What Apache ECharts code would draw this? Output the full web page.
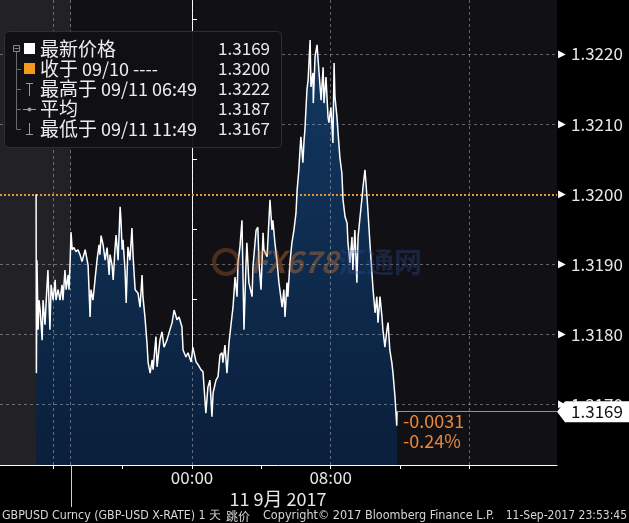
<!DOCTYPE html>
<html><head><meta charset="utf-8">
<script src="https://cdn.jsdelivr.net/npm/echarts@6/dist/echarts.min.js"></script>
<style>html,body{margin:0;padding:0;background:#000}#c{width:629px;height:523px}</style>
</head><body><div id="c"></div><script>
// ---- data (minutes relative to 09/11 00:00) ----
const minutes = [
-540,-539,-537,-533,-530,-526,-519,-516,-509,-505,
-499,-495,-492,-488,-481,-474,-471,-464,-457,-450,
-447,-440,-436,-429,-426,-422,-419,-415,-409,-402,
-395,-388,-381,-370,-360,-353,-350,-343,-336,-329,
-322,-319,-315,-308,-301,-294,-287,-284,-277,-273,
-267,-263,-256,-249,-246,-242,-239,-232,-228,-222,
-215,-208,-204,-197,-187,-180,-173,-170,-163,-156,
-152,-145,-138,-135,-125,-121,-111,-104,-97,-87,
-80,-69,-62,-52,-45,-35,-31,-21,-14,-3,
3,14,21,31,38,48,55,62,69,73,
83,90,97,104,107,114,121,128,138,142,
149,156,159,166,173,177,180,187,190,197,
208,211,222,228,232,239,246,249,260,267,
270,277,280,287,294,301,312,318,322,329,
332,339,346,353,360,364,370,374,377,384,
388,391,398,402,409,
412,419,420,426,
433,440,447,454,457,464,471,474,481,488,
492,495,502,505,512,519,523,530,537,540,
547,554,557,564,571,575,582,589,592,599,
606,609,616,623,627,634,640,644,651,658,
661,668,675,679,685,692,696,703,709,710];
const prices = [
1.32000,1.31745,1.31906,1.31807,1.31849,1.31835,1.31792,1.31849,1.31814,1.31849,
1.31892,1.31842,1.31807,1.31871,1.31849,1.31878,1.31849,1.31864,1.31849,1.31871,
1.31849,1.31892,1.31864,1.31885,1.31864,1.31906,1.31946,1.31921,1.31924,1.31918,
1.31921,1.31914,1.31904,1.31921,1.31899,1.31825,1.31864,1.31849,1.31878,1.31906,
1.31928,1.31914,1.31941,1.31928,1.31906,1.31924,1.31885,1.31914,1.31899,1.31878,
1.31921,1.31942,1.31906,1.31982,1.31963,1.31921,1.31935,1.31892,1.31845,1.31925,
1.31906,1.31952,1.31911,1.31864,1.31859,1.31839,1.31885,1.31854,1.31825,1.31788,
1.31760,1.31745,1.31764,1.31750,1.31797,1.31754,1.31792,1.31804,1.31782,1.31792,
1.31802,1.31817,1.31835,1.31821,1.31825,1.31811,1.31778,1.31768,1.31774,1.31761,
1.31782,1.31761,1.31757,1.31750,1.31747,1.31688,1.31725,1.31735,1.31683,1.31717,
1.31735,1.31740,1.31771,1.31774,1.31760,1.31785,1.31745,1.31788,1.31825,1.31839,
1.31882,1.31854,1.31902,1.31925,1.31963,1.31874,1.31807,1.31902,1.31931,1.31874,
1.31854,1.31896,1.31949,1.31953,1.31902,1.31864,1.31945,1.31921,1.31911,1.31968,
1.31992,1.31949,1.31963,1.31931,1.31906,1.31874,1.31839,1.31864,1.31825,1.31874,
1.31854,1.31902,1.31931,1.31949,1.31973,1.32006,1.32035,1.32063,1.32082,1.32045,
1.32077,1.32092,1.32149,1.32163,1.32220,
1.32153,1.32173,1.32130,1.32196,
1.32213,1.32173,1.32134,1.32181,1.32130,1.32167,1.32110,1.32102,1.32124,1.32073,
1.32187,1.32139,1.32110,1.32092,1.32053,1.32030,1.31992,1.31968,1.31959,1.31931,
1.31902,1.31939,1.31892,1.31949,1.31874,1.31939,1.31968,1.31996,1.32010,1.32035,
1.31996,1.31978,1.31931,1.31888,1.31864,1.31831,1.31854,1.31817,1.31854,1.31825,
1.31807,1.31782,1.31807,1.31817,1.31778,1.31760,1.31745,1.31711,1.31670,1.31690];

const yGridValues = [1.3170, 1.3180, 1.3190, 1.3210, 1.3220];
const yLabelValues = [1.3170, 1.3180, 1.3190, 1.3200, 1.3210, 1.3220];
const yMinorTicks = [1.3165, 1.3175, 1.3185, 1.3195, 1.3205, 1.3215, 1.3225];
const xTickValues = [-480, -240, 0, 240, 480, 720, 960];
const xGridValues = [-480, -420, 0, 480, 960];
const xLabelValues = [0, 480];
const sessionStart = -420;
const prevClose = 1.3200, lastPrice = 1.3169;
const changeText = '-0.0031', changePctText = '-0.24%';
const legendLabels = ['最新价格', '收于 09/10 ----', '最高于 09/11 06:49', '平均', '最低于 09/11 11:49'];
const legendValues = ['1.3169', '1.3200', '1.3222', '1.3187', '1.3167'];
const dateLabel = '11 9月 2017';
const footerParts = ['GBPUSD Curncy (GBP-USD X-RATE) 1 天', '跳价', 'Copyright© 2017 Bloomberg Finance L.P.', '11-Sep-2017 23:53:45'];

// ---- chart ----
const FONT = "'Noto Sans CJK SC','Noto Sans',sans-serif";
const NARROW = "'Liberation Sans Narrow','DejaVu Sans Condensed',sans-serif";
const xMin = -665, xMax = 1264, yMin = 1.31614, yMax = 1.32277;
const lastIdx = minutes.length - 1;
const lineData = minutes.map((m, i) => [m, prices[i]]);
const fmtTime = m => { const h = ((Math.floor(m / 60) % 24) + 24) % 24; const mm = ((m % 60) + 60) % 60; return String(h).padStart(2, '0') + ':' + String(mm).padStart(2, '0'); };
const GRIDC = 'rgba(220,225,235,0.40)';

// split text into CJK / latin runs for rich text
const toRich = s => s.replace(/([\u3400-\u9fff]+)|([^\u3400-\u9fff]+)/g, (m, c, l) => c ? '{c|' + c + '}' : '{l|' + l + '}');
const legendRich = { c: { fontSize: 19, fontFamily: FONT, fill: '#ececec' }, l: { fontSize: 18, fontFamily: FONT, fill: '#ececec' } };

const chart = echarts.init(document.getElementById('c'));
const rowY = [49, 69, 89, 109, 129];
const L2 = { zlevel: 2 };
const legendGraphics = [
  { type: 'rect', shape: { x: 4.5, y: 31.5, width: 277, height: 116, r: 4 }, style: { fill: 'rgba(16,16,20,0.95)', stroke: '#2e2e33', lineWidth: 1 }, z: 100 },
  { type: 'rect', shape: { x: 13.5, y: 45.5, width: 6, height: 6 }, style: { fill: 'none', stroke: '#8a8a8a', lineWidth: 1 }, z: 101 },
  { type: 'line', shape: { x1: 14.5, y1: 48.5, x2: 18.5, y2: 48.5 }, style: { stroke: '#8a8a8a', lineWidth: 1 }, z: 101 },
  { type: 'line', shape: { x1: 16.5, y1: 52, x2: 16.5, y2: 129.5 }, style: { stroke: '#6a6a6a', lineWidth: 1 }, z: 101 },
  { type: 'rect', shape: { x: 24, y: 43, width: 11, height: 11 }, style: { fill: '#ffffff' }, z: 101 },
  { type: 'rect', shape: { x: 24, y: 63, width: 11, height: 11 }, style: { fill: '#f39a1e' }, z: 101 },
  { type: 'line', shape: { x1: 29.5, y1: 83, x2: 29.5, y2: 96 }, style: { stroke: '#9a9a9a', lineWidth: 1 }, z: 101 },
  { type: 'line', shape: { x1: 26, y1: 83.5, x2: 33, y2: 83.5 }, style: { stroke: '#9a9a9a', lineWidth: 1 }, z: 101 },
  { type: 'line', shape: { x1: 23, y1: 109.5, x2: 36, y2: 109.5 }, style: { stroke: '#9a9a9a', lineWidth: 1 }, z: 101 },
  { type: 'circle', shape: { cx: 29.5, cy: 109.5, r: 2 }, style: { fill: '#9a9a9a' }, z: 101 },
  { type: 'line', shape: { x1: 29.5, y1: 123, x2: 29.5, y2: 135 }, style: { stroke: '#9a9a9a', lineWidth: 1 }, z: 101 },
  { type: 'line', shape: { x1: 26, y1: 134.5, x2: 33, y2: 134.5 }, style: { stroke: '#9a9a9a', lineWidth: 1 }, z: 101 }
];
[69, 89, 109, 129].forEach(y => legendGraphics.push({ type: 'line', shape: { x1: 16.5, y1: y + 0.5, x2: 21, y2: y + 0.5 }, style: { stroke: '#6a6a6a', lineWidth: 1 }, z: 101 }));
legendLabels.forEach((t, i) => {
  legendGraphics.push({ type: 'text', x: 40, y: rowY[i], style: { text: toRich(t), rich: legendRich, fill: '#ececec', font: '17px ' + FONT, textVerticalAlign: 'middle' }, z: 102 });
  legendGraphics.push({ type: 'text', x: 270, y: rowY[i], style: { text: legendValues[i], fill: '#ececec', font: '17px ' + FONT, textAlign: 'right', textVerticalAlign: 'middle' }, z: 102 });
});
legendGraphics.forEach(g => Object.assign(g, L2));

const otherGraphics = [
  { type: 'text', x: 278, y: 499, style: { text: toRich(dateLabel), rich: { c: { fontSize: 19, fontFamily: FONT, fill: '#e6e6e6' }, l: { fontSize: 18, fontFamily: FONT, fill: '#e6e6e6' } }, fill: '#e6e6e6', font: '18px ' + FONT, textAlign: 'center', textVerticalAlign: 'middle' }, z: 50 },
  { type: 'text', x: 2, y: 516, style: { text: footerParts[0], fill: '#d6d6d6', font: '12.3px ' + NARROW, textVerticalAlign: 'middle' }, z: 50 },
  { type: 'text', x: 226, y: 516, style: { text: footerParts[1], fill: '#d6d6d6', font: '12px ' + FONT, textVerticalAlign: 'middle' }, z: 50 },
  { type: 'text', x: 263, y: 516, style: { text: footerParts[2], fill: '#d6d6d6', font: '12.5px ' + NARROW, textVerticalAlign: 'middle' }, z: 50 },
  { type: 'text', x: 627, y: 516, style: { text: footerParts[3], fill: '#d6d6d6', font: '12px ' + NARROW, textAlign: 'right', textVerticalAlign: 'middle' }, z: 50 },
  // watermark
  { type: 'circle', shape: { cx: 226, cy: 262, r: 12 }, style: { fill: 'none', stroke: 'rgba(190,100,45,0.35)', lineWidth: 4 }, z: 20, zlevel: 1 },
  { type: 'text', x: 250, y: 262, style: { text: 'FX678', fill: 'rgba(210,120,50,0.40)', font: 'bold italic 30px ' + FONT, textVerticalAlign: 'middle' }, z: 20, zlevel: 1 },
  { type: 'text', x: 338, y: 262, style: { text: '汇通网', fill: 'rgba(45,80,150,0.33)', font: 'bold 28px ' + FONT, textVerticalAlign: 'middle' }, z: 20, zlevel: 1 }
];

const gridLines = [
  ...yGridValues.map(v => [{ coord: [xMin, v] }, { coord: [xMax, v] }]),
  ...xGridValues.map(m => [{ coord: [m, yMin] }, { coord: [m, yMax] }])
];

chart.setOption({
  animation: false,
  backgroundColor: '#000',
  grid: { left: 0, right: 72, top: 0, bottom: 58, show: true, backgroundColor: '#111115', borderWidth: 0 },
  xAxis: {
    type: 'value', min: xMin, max: xMax,
    splitLine: { show: false },
    axisLine: { show: true, onZero: false, lineStyle: { color: '#ffffff', width: 1 } },
    axisTick: { show: true, customValues: xTickValues, length: 4, lineStyle: { color: '#ffffff' } },
    axisLabel: { customValues: xLabelValues, formatter: v => fmtTime(v), color: '#e6e6e6', fontSize: 17, fontFamily: FONT, margin: 4 }
  },
  yAxis: {
    type: 'value', position: 'right', min: yMin, max: yMax, scale: true,
    splitLine: { show: false },
    axisLine: { show: true, lineStyle: { color: '#ffffff', width: 1 } },
    axisTick: { show: true, customValues: yMinorTicks, length: 5, lineStyle: { color: '#ffffff' } },
    axisLabel: {
      customValues: yLabelValues, margin: 1,
      formatter: v => '{t|▶}{v|' + v.toFixed(4) + '}',
      rich: { t: { color: '#ffffff', fontSize: 10, width: 13 }, v: { color: '#e8e8e8', fontSize: 17, fontFamily: FONT } }
    }
  },
  series: [
    { // area fill (bottom layer)
      type: 'line', data: lineData, showSymbol: false, z: 2, zlevel: 0, silent: true,
      lineStyle: { width: 0, opacity: 0 },
      areaStyle: { color: new echarts.graphic.LinearGradient(0, 0, 0, 1, [{ offset: 0, color: '#133861' }, { offset: 1, color: '#0a1f3b' }]), opacity: 1 }
    },
    { // session shading
      type: 'line', data: [], z: 1, zlevel: 1, silent: true,
      markArea: { silent: true, itemStyle: { color: 'rgba(255,255,255,0.075)' }, data: [[{ xAxis: xMin }, { xAxis: sessionStart }]] }
    },
    { // grid lines above the fill
      type: 'line', data: [], z: 2, zlevel: 1, silent: true,
      markLine: {
        silent: true, symbol: ['none', 'none'], label: { show: false },
        lineStyle: { color: GRIDC, type: [3, 3], width: 1, opacity: 1 },
        data: gridLines
      }
    },
    { // previous close and last price lines
      type: 'line', data: [], z: 3, zlevel: 1, silent: true,
      markLine: {
        silent: true, symbol: ['none', 'none'], label: { show: false },
        data: [
          [{ coord: [xMin, prevClose], lineStyle: { color: '#e8923a', type: [2, 2], width: 2 } }, { coord: [xMax, prevClose] }],
          [{ coord: [minutes[lastIdx], lastPrice], lineStyle: { color: '#e07a35', width: 1, type: 'solid' } }, { coord: [xMax, lastPrice] }]
        ]
      }
    },
    { // price line
      type: 'line', data: lineData, showSymbol: false, z: 5, zlevel: 1,
      lineStyle: { color: '#ffffff', width: 1.5 },
      markPoint: {
        silent: true,
        data: [
          { coord: [xMax, lastPrice], symbol: 'path://M0,10 L8,0 L72,0 L72,20 L8,20 Z', symbolSize: [72, 21], symbolOffset: [36, 0], itemStyle: { color: '#ffffff' }, label: { show: true, formatter: lastPrice.toFixed(4), color: '#111', fontSize: 17, fontFamily: FONT, offset: [4, 0] } },
          { coord: [minutes[lastIdx], lastPrice], symbol: 'circle', symbolSize: 0, itemStyle: { color: 'transparent' }, label: { show: true, position: 'right', distance: 4, formatter: changeText + '\n' + changePctText, color: '#e8883a', fontSize: 18, lineHeight: 20, fontFamily: FONT, offset: [2, 19] } }
        ]
      }
    }
  ],
  graphic: [...otherGraphics, ...legendGraphics]
});

const px = v => chart.convertToPixel({ xAxisIndex: 0 }, v);
const py = v => chart.convertToPixel({ yAxisIndex: 0 }, v);
const sx = Math.round(px(sessionStart)) + 0.5;
chart.setOption({ graphic: [{ id: 'sessLine', type: 'line', shape: { x1: sx, y1: py(yMin), x2: sx, y2: 507 }, style: { stroke: '#d0d0d0', lineWidth: 1 }, z: 50 }] });
</script></body></html>
